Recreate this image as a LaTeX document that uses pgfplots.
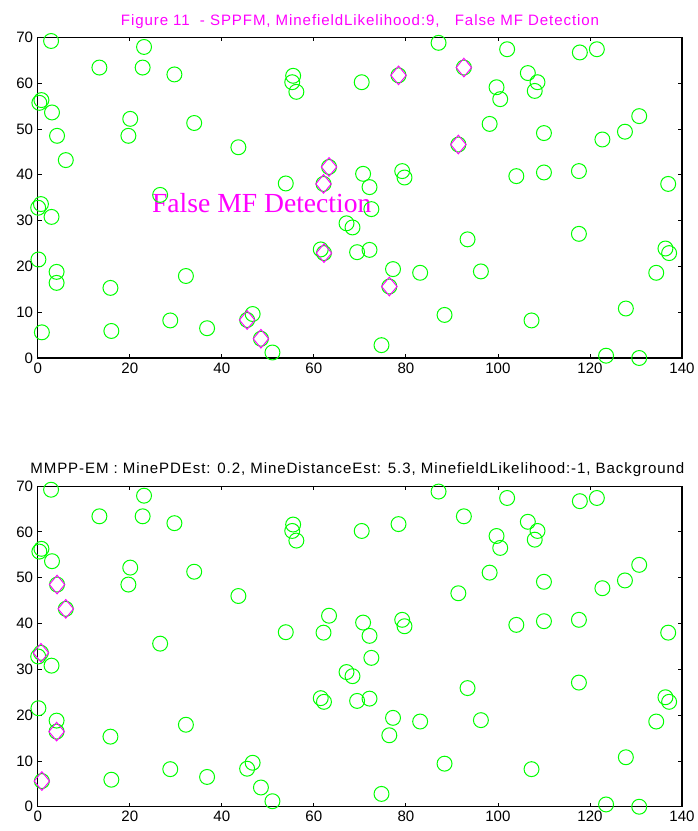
\documentclass[border=0pt]{standalone}
\usepackage{fontspec}
\setmainfont{Liberation Sans}
\newfontfamily\timesfont{Liberation Serif}
\newfontfamily\titlefont[LetterSpace=6]{Liberation Sans}
\usepackage{pgfplots}
\pgfplotsset{compat=1.18}
\usepackage{pgfplotstable}
\definecolor{mgreen}{RGB}{0,255,0}
\definecolor{mmag}{RGB}{255,0,255}

% all detections (same set in both panels)
\pgfplotstableread{
x y
2.9 69.2
0.35 55.7
0.8 56.3
3.1 53.6
4.2 48.5
6.1 43.2
13.4 63.4
23.1 67.9
22.8 63.4
29.7 61.9
20.1 52.2
19.7 48.5
34.0 51.3
43.6 46.0
26.6 35.6
0.7 33.6
0.1 32.8
3.0 30.8
0.15 21.5
4.1 18.8
4.1 16.4
15.8 15.3
32.2 17.9
0.9 5.6
16.0 5.9
28.8 8.2
36.8 6.5
45.5 8.3
46.7 9.6
48.5 4.2
51.0 1.2
55.5 61.6
55.3 60.2
56.2 58.1
70.4 60.2
78.4 61.7
87.1 68.8
53.9 38.1
63.3 41.7
62.1 38.0
70.7 40.2
72.1 37.3
72.5 32.5
79.2 40.8
79.7 39.4
61.5 23.7
62.2 22.9
67.1 29.4
68.4 28.5
69.4 23.1
72.1 23.6
77.2 19.4
76.4 15.6
83.1 18.6
88.4 9.4
74.7 2.8
92.6 63.4
91.4 46.6
102.0 67.4
117.8 66.7
121.5 67.4
106.5 62.2
108.6 60.2
108.0 58.3
99.7 59.1
100.5 56.5
98.2 51.1
110.0 49.1
130.7 52.8
127.6 49.4
122.7 47.7
104.0 39.7
110.0 40.5
117.6 40.8
137.0 38.0
93.4 25.9
96.3 18.9
117.6 27.1
136.4 23.9
137.2 22.9
134.4 18.6
127.8 10.8
107.3 8.2
123.5 0.5
130.7 0.0
}\circles

% SPPFM picks
\pgfplotstableread{
x y
45.5 8.3
48.5 4.2
62.2 22.9
76.4 15.6
62.1 38.0
63.3 41.7
78.4 61.7
92.6 63.4
91.4 46.6
}\sppfm

% MMPP-EM picks
\pgfplotstableread{
x y
0.7 33.6
4.2 48.5
6.1 43.2
4.1 16.4
0.9 5.6
}\mmpp

\pgfplotsset{
  panel/.style={
    scale only axis,
    width=483.2pt, height=240.5pt,
    xmin=0, xmax=140, ymin=0, ymax=70,
    xtick={0,20,...,140}, ytick={0,10,...,70},
    tick align=inside,
    major tick length=3pt,
    axis line style={line width=0.8pt},
    tick style={black, line width=0.6pt},
    tick label style={font=\fontsize{11.3}{13}\selectfont},
    /pgf/number format/assume math mode=true,
    clip=false,
    anchor=south west,
  },
  circ/.style={only marks, mark=o, mark size=5.6pt,
    mark options={draw=mgreen, line width=0.75pt}},
  diam/.style={only marks, mark=diamond, mark size=7pt,
    mark options={draw=mmag, line width=0.7pt, xscale=1.1}},
}

\begin{document}
\begin{tikzpicture}
\path[use as bounding box] (0,0) rectangle (523.5pt,623.25pt);

\begin{axis}[panel, at={(28.3pt,354.75pt)}]
  \addplot[circ] table {\circles};
  \addplot[diam] table {\sppfm};
  \node[anchor=base west, text=mmag, inner sep=0pt,
        font=\timesfont\fontsize{20.7}{24}\selectfont]
    at (axis cs:24.8,31.7) {False MF Detection};
\end{axis}

\begin{axis}[panel, at={(28.3pt,18.2pt)}]
  \addplot[circ] table {\circles};
  \addplot[diam] table {\mmpp};
\end{axis}

\node[anchor=base, text=mmag, font=\titlefont\fontsize{11.3}{13}\selectfont]
  at (270pt,603.75pt) {Figure 11\ \ - SPPFM, MinefieldLikelihood:9,\ \ \ False MF Detection};
\node[anchor=base, font=\titlefont\fontsize{11.3}{13}\selectfont]
  at (268pt,267.75pt) {MMPP-EM : MinePDEst: 0.2, MineDistanceEst: 5.3, MinefieldLikelihood:-1, Background};
\end{tikzpicture}
\end{document}
